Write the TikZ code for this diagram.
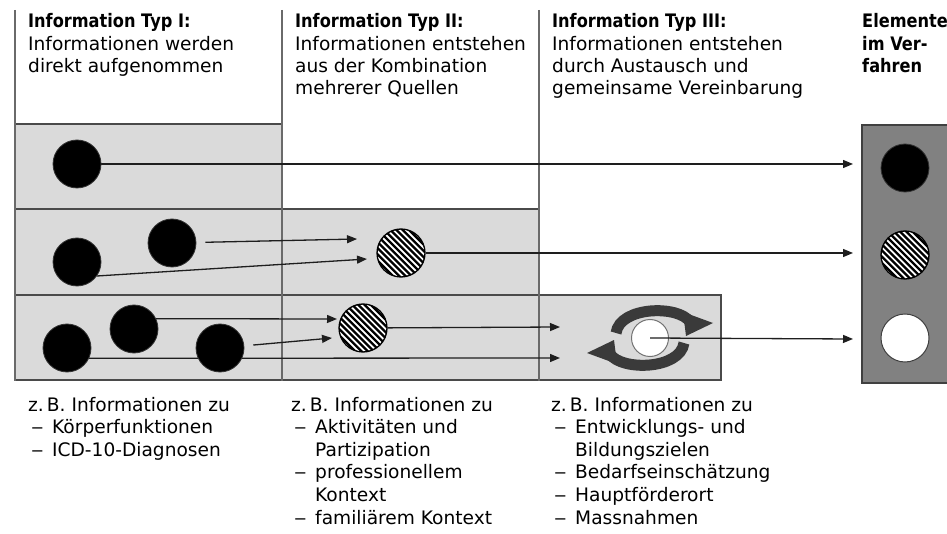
\documentclass[tikz,border=0pt]{standalone}
\usepackage{fontspec}
\setmainfont{DejaVu Sans}[BoldFeatures={FakeStretch=0.87}]
\usetikzlibrary{arrows.meta}
\definecolor{boxgray}{HTML}{DADADA}
\definecolor{edgegray}{HTML}{4A4A4A}
\definecolor{colgray}{HTML}{6A6A6A}
\definecolor{panelgray}{HTML}{818181}
\definecolor{cycgray}{HTML}{3A3A3A}
\definecolor{congray}{HTML}{1E1E1E}
\pgfdeclarelayer{bg}
\pgfdeclarelayer{mid}
\pgfsetlayers{bg,mid,main}
\newcommand\hdash{\makebox[24pt][l]{\hspace{3pt}\scalebox{1.35}[1]{–}}}
\newcommand\indt{\hspace*{24pt}}
\begin{document}
\begin{tikzpicture}[x=1pt,y=-1pt,
  txt/.style={font=\fontsize{18.6}{22.2}\selectfont, align=left, anchor=base west, inner sep=0pt},
  lst/.style={font=\fontsize{18.6}{22.6}\selectfont, align=left, anchor=base west, inner sep=0pt},
  blk/.style={circle, fill=black, draw=black!80, line width=0.8pt, minimum size=48pt, inner sep=0pt},
  hatchc/.style={circle, fill=white, draw=black, line width=1.3pt, minimum size=48pt, inner sep=0pt,
    path picture={\foreach \i in {-43.4,-37.2,...,43.5}
      \draw[line width=2.3pt, black] ([xshift=\i pt]path picture bounding box.center) ++(-40,-40) -- ++(80,80);}},
  wht/.style={circle, fill=white, draw=black!75, line width=1pt, minimum size=48pt, inner sep=0pt},
  con/.style={line width=1.3pt, draw=congray},
  arr/.style={con, -{Triangle[length=10pt,width=8pt]}},
  frameline/.style={line width=1.6pt, draw=edgegray},
  colline/.style={line width=1.6pt, draw=colgray},
  cyc/.style={line width=11pt, draw=cycgray},
]
\useasboundingbox (0,0) rectangle (947,534);

% ---------- background boxes and grid
\begin{pgfonlayer}{bg}
  \fill[boxgray] (15,124) rectangle (282,209);
  \fill[boxgray] (15,209) rectangle (539,295);
  \fill[boxgray] (15,295) rectangle (721,380);
  \draw[frameline] (15,124) -- (282,124);
  \draw[frameline] (15,209) -- (539,209);
  \draw[frameline] (15,295) -- (721,295) -- (721,380) -- (15,380);
  \draw[colline] (15,10) -- (15,381);
  \draw[colline] (282,10) -- (282,381);
  \draw[colline] (539,10) -- (539,381);
  \draw[line width=1.6pt, draw=black!75, fill=panelgray] (862,125) rectangle (970,383);
\end{pgfonlayer}

% ---------- headers (anchor = baseline of the last line)
\node[txt] (h1) at (28,72.4) {\textbf{Information Typ I:}\\Informationen werden\\direkt aufgenommen};
\node[txt] (h2) at (295,94.6) {\textbf{Information Typ II:}\\Informationen entstehen\\aus der Kombination\\mehrerer Quellen};
\node[txt] (h3) at (552,94.6) {\textbf{Information Typ III:}\\Informationen entstehen\\durch Austausch und\\gemeinsame Vereinbarung};
\node[txt] (h4) at (862,72.4) {\textbf{Elemente}\\\textbf{im Ver-}\\\textbf{fahren}};

% ---------- bottom lists
\node[lst] (l1) at (28,456.2) {z.\,B. Informationen zu\\\hdash Körperfunktionen\\\hdash ICD-10-Diagnosen};
\node[lst] (l2) at (291,524) {z.\,B. Informationen zu\\\hdash Aktivitäten und\\\indt Partizipation\\\hdash professionellem\\\indt Kontext\\\hdash familiärem Kontext};
\node[lst] (l3) at (551,524) {z.\,B. Informationen zu\\\hdash Entwicklungs- und\\\indt Bildungszielen\\\hdash Bedarfseinschätzung\\\hdash Hauptförderort\\\hdash Massnahmen};

% ---------- circles
\node[blk] (b1) at (77,164) {};
\node[blk] (b2a) at (172,243) {};
\node[blk] (b2b) at (77,262) {};
\node[blk] (b3a) at (134,329) {};
\node[blk] (b3b) at (67,348) {};
\node[blk] (b3c) at (220,348) {};
\node[hatchc] (x2) at (401,253) {};
\node[hatchc] (x3) at (363,328) {};
\node[blk] (p1) at (905,168) {};
\node[hatchc] (p2) at (905,255) {};
\node[wht] (p3) at (905,338) {};

% ---------- arrow targets
\coordinate (t1) at (853,164);
\coordinate (t2a) at (357,239);
\coordinate (t2b) at (367,259);
\coordinate (t2x) at (853,253);
\coordinate (t3a) at (337,319);
\coordinate (t3c) at (332,338);
\coordinate (t3b) at (560,358);
\coordinate (t3x) at (560,327);
\coordinate (t4) at (853,339);

% ---------- connectors and cycle icon (behind circles)
\begin{pgfonlayer}{mid}
  \draw[arr] (b1) -- (t1);
  \draw[arr, shorten <=9pt] (b2a) -- (t2a);
  \draw[arr] (b2b.-35) -- (t2b);
  \draw[arr] (x2) -- (t2x);
  \draw[arr] (b3a.25) -- (t3a);
  \draw[arr, shorten <=9pt] (b3c) -- (t3c);
  \draw[arr] (b3b.-25) -- (t3b);
  \draw[arr] (x3) -- (t3x);
  % cycle arrows
  \draw[cyc] (616,333) .. controls (620,306) and (679,305) .. (690,322);
  \fill[cycgray] (683,312) -- (713,323) -- (686,336) -- cycle;
  \draw[cyc] (684,343) .. controls (680,370) and (621,371) .. (610,354);
  \fill[cycgray] (617,364) -- (587,353) -- (614,340) -- cycle;
\end{pgfonlayer}

\node[circle, fill=white, draw=black!55, line width=1pt, minimum size=37pt, inner sep=0pt] (wc) at (650,338) {};
\draw[arr] (wc.center) -- (t4);

\end{tikzpicture}
\end{document}
